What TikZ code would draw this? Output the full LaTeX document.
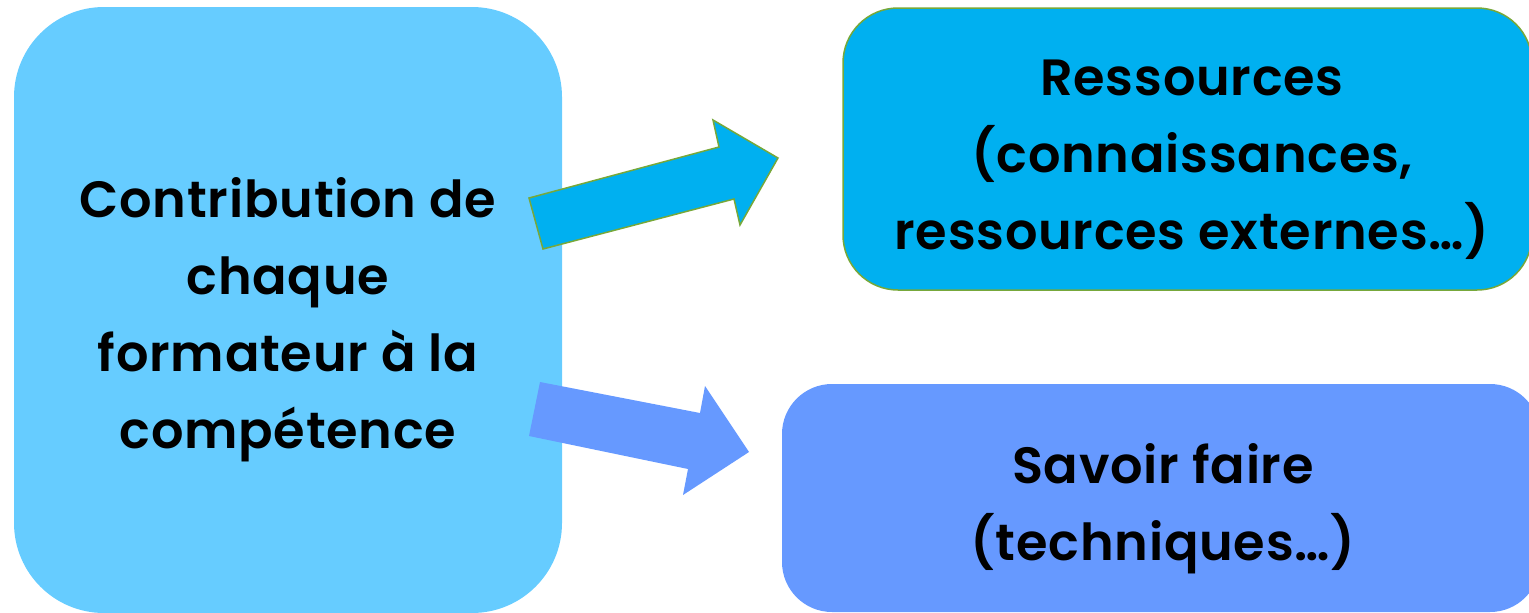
\documentclass[tikz,border=0pt]{standalone}
\usepackage{fontspec}
\setmainfont{Poppins}[BoldFont={Poppins SemiBold}, BoldFeatures={LetterSpace=1.5}]
\definecolor{leftfill}{HTML}{66CCFF}
\definecolor{topfill}{HTML}{00B0F0}
\definecolor{botfill}{HTML}{6699FF}
\definecolor{greenline}{HTML}{77A83A}
\tikzset{
  lbl/.style={font=\fontsize{51}{77}\selectfont\bfseries, align=center, text=black, inner sep=0pt},
}
\begin{document}
\begin{tikzpicture}[x=1pt,y=-1pt]
\useasboundingbox (0,0) rectangle (1529,613);
\clip (0,0) rectangle (1529,613);
% boxes
\path[fill=leftfill, rounded corners=90pt] (14,7) rectangle (562,613);
\path[fill=topfill, draw=greenline, line width=1.5pt, rounded corners=55pt] (843,8) rectangle (1532,290);
\path[fill=botfill, rounded corners=50pt] (782,384) rectangle (1540,612);
% arrows
\draw[fill=topfill, draw=greenline, line width=1.5pt, line join=miter]
  (529,198) -- (719,147) -- (713,120) -- (778,158) -- (740,225) -- (734,199) -- (543,249) -- cycle;
\fill[botfill]
  (540,382) -- (700,413) -- (705,386) -- (749,452) -- (683,495) -- (688,469) -- (529,436) -- cycle;
% texts
\node[lbl] (left) at (288,320) {Contribution de\\chaque\\formateur à la\\compétence};
\node[lbl] (res) at (1192,160) {Ressources\\(connaissances,\\ressources externes…)};
\node[lbl] (sav) at (1163,509) {Savoir faire\\(techniques…)};
\end{tikzpicture}
\end{document}
